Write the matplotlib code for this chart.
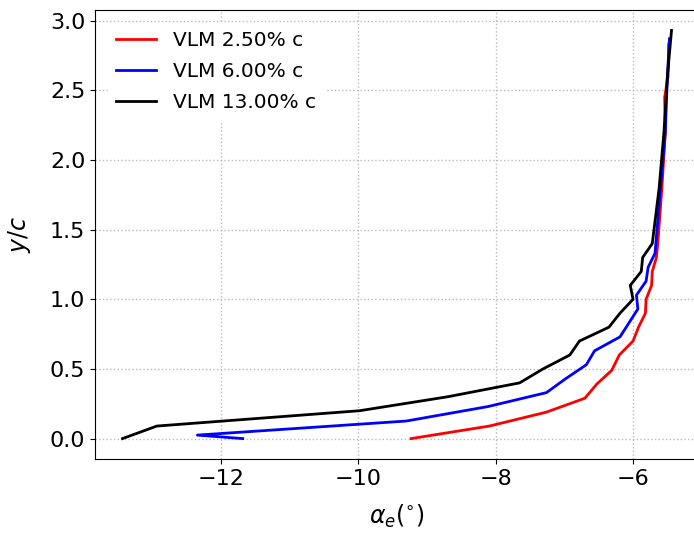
import matplotlib
matplotlib.use('Agg')
import matplotlib.pyplot as plt

# effective angle of attack along the span, VLM results for three trailing positions
y_25 = [0.0, 0.09, 0.19, 0.29, 0.39, 0.49, 0.60, 0.70, 0.80, 0.90, 1.00, 1.10, 1.20, 1.30, 1.40, 1.80, 2.20, 2.45, 2.60, 2.83]
a_25 = [-9.23, -8.09, -7.26, -6.70, -6.53, -6.31, -6.20, -6.00, -5.92, -5.82, -5.81, -5.73, -5.72, -5.66, -5.64, -5.58, -5.53, -5.54, -5.49, -5.48]

y_60 = [0.0, 0.025, 0.126, 0.23, 0.33, 0.43, 0.53, 0.63, 0.73, 0.83, 0.93, 1.03, 1.13, 1.23, 1.33, 1.80, 2.20, 2.60, 2.87]
a_60 = [-11.68, -12.34, -9.30, -8.11, -7.26, -6.98, -6.68, -6.56, -6.19, -6.06, -5.93, -5.95, -5.81, -5.78, -5.68, -5.60, -5.53, -5.50, -5.47]

y_130 = [0.0, 0.09, 0.20, 0.30, 0.40, 0.50, 0.60, 0.70, 0.80, 0.90, 1.00, 1.10, 1.20, 1.30, 1.40, 1.80, 2.20, 2.60, 2.93]
a_130 = [-13.43, -12.93, -9.98, -8.70, -7.65, -7.31, -6.92, -6.78, -6.35, -6.19, -6.00, -6.04, -5.88, -5.86, -5.72, -5.62, -5.55, -5.50, -5.44]

fig = plt.figure(figsize=(6.94, 5.33), dpi=100)
# axes run slightly past the right edge of the figure
ax = fig.add_axes([95 / 694, 74 / 533, 604 / 694, 449 / 533])

ax.plot(a_25, y_25, c='red', lw=2, label='VLM 2.50% c')
ax.plot(a_60, y_60, c='blue', lw=2, label='VLM 6.00% c')
ax.plot(a_130, y_130, c='black', lw=2, label='VLM 13.00% c')

ax.set_xlim(-13.83, -5.04)
ax.grid(linestyle=':', color='#bbbbbb', lw=1)
ax.tick_params(labelsize=16)
ax.set_xlabel(r'$\alpha_e(^{\circ})$', fontsize=17, labelpad=10)
ax.set_ylabel(r'$y/c$', fontsize=17, labelpad=12)
ax.set_xticks([-12, -10, -8, -6])
ax.set_yticks([0.0, 0.5, 1.0, 1.5, 2.0, 2.5, 3.0])

leg = ax.legend(loc='upper left', fontsize=14.5, framealpha=1, edgecolor='white',
                fancybox=False, labelspacing=0.6, borderaxespad=0.65)

fig.savefig('out.png', dpi=100)
